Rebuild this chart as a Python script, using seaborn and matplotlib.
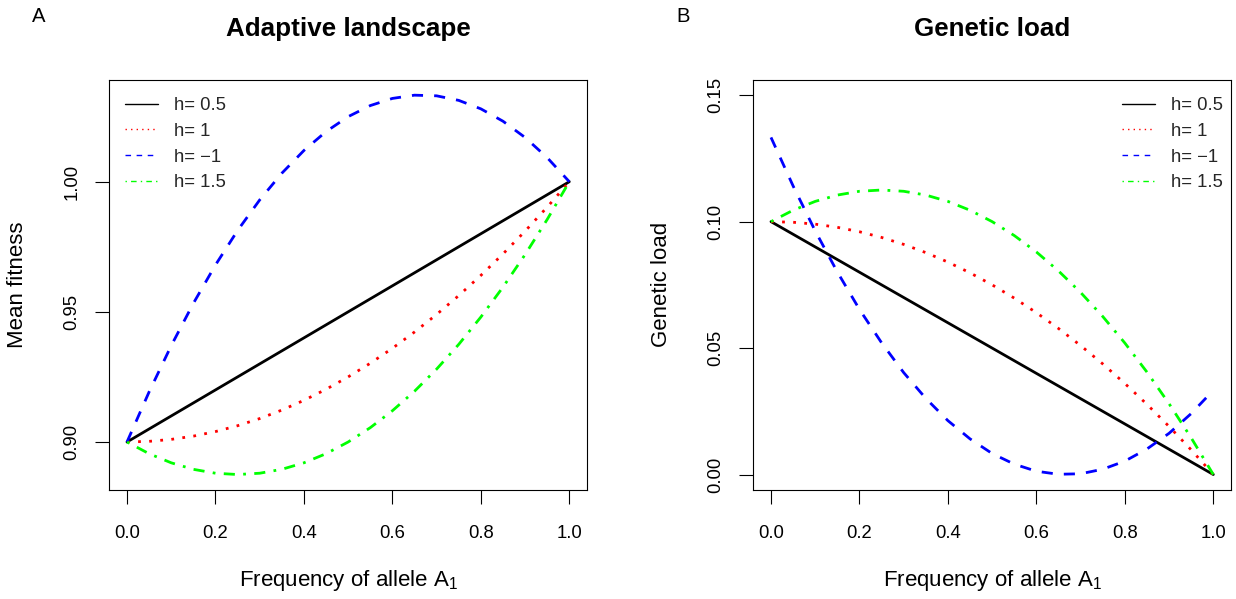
import matplotlib
matplotlib.use("Agg")
import matplotlib.pyplot as plt
import numpy as np
import pandas as pd
import seaborn as sns
from matplotlib.lines import Line2D

# ---------------- data ----------------
freq = [0.00, 0.05, 0.10, 0.15, 0.20, 0.25, 0.30, 0.35, 0.40, 0.45, 0.50,
        0.55, 0.60, 0.65, 0.70, 0.75, 0.80, 0.85, 0.90, 0.95, 1.00]

series_labels = ["h= 0.5", "h= 1", "h= \u22121", "h= 1.5"]

# Panel A: mean fitness
fit_h05 = [0.900, 0.905, 0.910, 0.915, 0.920, 0.925, 0.930, 0.935, 0.940, 0.945, 0.950,
           0.955, 0.960, 0.965, 0.970, 0.975, 0.980, 0.985, 0.990, 0.995, 1.000]
fit_h1 = [0.90000, 0.90025, 0.90100, 0.90225, 0.90400, 0.90625, 0.90900, 0.91225, 0.91600, 0.92025, 0.92500,
          0.93025, 0.93600, 0.94225, 0.94900, 0.95625, 0.96400, 0.97225, 0.98100, 0.99025, 1.00000]
fit_hm1 = [0.90000, 0.91925, 0.93700, 0.95325, 0.96800, 0.98125, 0.99300, 1.00325, 1.01200, 1.01925, 1.02500,
           1.02925, 1.03200, 1.03325, 1.03300, 1.03125, 1.02800, 1.02325, 1.01700, 1.00925, 1.00000]
fit_h15 = [0.9000, 0.8955, 0.8920, 0.8895, 0.8880, 0.8875, 0.8880, 0.8895, 0.8920, 0.8955, 0.9000,
           0.9055, 0.9120, 0.9195, 0.9280, 0.9375, 0.9480, 0.9595, 0.9720, 0.9855, 1.0000]

# Panel B: genetic load
load_h05 = [0.100, 0.095, 0.090, 0.085, 0.080, 0.075, 0.070, 0.065, 0.060, 0.055, 0.050,
            0.045, 0.040, 0.035, 0.030, 0.025, 0.020, 0.015, 0.010, 0.005, 0.000]
load_h1 = [0.10000, 0.09975, 0.09900, 0.09775, 0.09600, 0.09375, 0.09100, 0.08775, 0.08400, 0.07975, 0.07500,
           0.06975, 0.06400, 0.05775, 0.05100, 0.04375, 0.03600, 0.02775, 0.01900, 0.00975, 0.00000]
load_hm1 = [0.1333, 0.1141, 0.0963, 0.0801, 0.0653, 0.0521, 0.0403, 0.0301, 0.0213, 0.0141, 0.0083,
            0.0041, 0.0013, 0.0001, 0.0003, 0.0021, 0.0053, 0.0101, 0.0163, 0.0241, 0.0333]
load_h15 = [0.1000, 0.1045, 0.1080, 0.1105, 0.1120, 0.1125, 0.1120, 0.1105, 0.1080, 0.1045, 0.1000,
            0.0945, 0.0880, 0.0805, 0.0720, 0.0625, 0.0520, 0.0405, 0.0280, 0.0145, 0.0000]

x_ticks = [0.0, 0.2, 0.4, 0.6, 0.8, 1.0]
x_ticklabels = ["0.0", "0.2", "0.4", "0.6", "0.8", "1.0"]
yA_ticks = [0.90, 0.95, 1.00]
yA_ticklabels = ["0.90", "0.95", "1.00"]
yB_ticks = [0.00, 0.05, 0.10, 0.15]
yB_ticklabels = ["0.00", "0.05", "0.10", "0.15"]

# ---------------- styles ----------------
colors = dict(zip(series_labels, ["#000000", "#FF0000", "#0000FF", "#00FF00"]))
dashes = dict(zip(series_labels, ["", (1, 3), (4, 4), (1, 3, 4, 3)]))

sns.set_theme(style="ticks")
plt.rcParams["font.family"] = ["Liberation Sans", "DejaVu Sans"]
plt.rcParams["mathtext.fontset"] = "custom"
plt.rcParams["mathtext.rm"] = "Liberation Sans"
plt.rcParams["mathtext.it"] = "Liberation Sans:italic"
plt.rcParams["axes.edgecolor"] = "black"
plt.rcParams["axes.linewidth"] = 0.8

FS = 13.3       # tick labels / legend
FS_LAB = 16.0   # axis labels
FS_TITLE = 18.7
W, H = 1236, 599
fig = plt.figure(figsize=(W / 100, H / 100), dpi=100)


def add_ax(left, top, right, bottom):
    return fig.add_axes([left / W, 1 - bottom / H, (right - left) / W, (bottom - top) / H])


axA = add_ax(109.3, 80, 587, 489.7)
axB = add_ax(753.3, 80, 1231, 489.7)


def long_df(values):
    rows = []
    for lab, vals in zip(series_labels, values):
        for p, v in zip(freq, vals):
            rows.append((p, v, lab))
    return pd.DataFrame(rows, columns=["p", "value", "h"])


dfA = long_df([fit_h05, fit_h1, fit_hm1, fit_h15])
dfB = long_df([load_h05, load_h1, load_hm1, load_h15])


def draw(ax, df, yticks, yticklabels, ylim, title, ylabel, legend_loc, anchor):
    sns.lineplot(data=df, x="p", y="value", hue="h", style="h",
                 hue_order=series_labels, style_order=series_labels,
                 palette=colors, dashes=dashes, linewidth=2,
                 estimator=None, sort=False, legend=False, ax=ax)
    ax.set_xlim(-0.04, 1.04)
    ax.set_ylim(*ylim)
    ax.set_xticks(x_ticks)
    ax.set_xticklabels(x_ticklabels)
    ax.set_yticks(yticks)
    ax.set_yticklabels(yticklabels)
    ax.tick_params(axis="both", direction="out", length=10, width=0.8,
                   color="black", labelsize=FS, labelcolor="black")
    ax.tick_params(axis="x", pad=15.5)
    ax.tick_params(axis="y", pad=11, labelrotation=90)
    for lab in ax.get_yticklabels():
        lab.set_va("center")
    for s in ax.spines.values():
        s.set_visible(True)
        s.set_color("black")
        s.set_linewidth(0.8)
    ax.set_xlabel(r"Frequency of allele A$_{\mathregular{1}}$", fontsize=FS_LAB, color="black")
    ax.xaxis.set_label_coords(0.5, -0.222)
    ax.xaxis.label.set_va("center")
    ax.set_ylabel(ylabel, fontsize=FS_LAB, color="black")
    ax.yaxis.set_label_coords(-0.193, 0.5)
    ax.yaxis.label.set_va("center")
    ax.text(0.5, 1.1245, title, transform=ax.transAxes, ha="center", va="center",
            fontsize=FS_TITLE, fontweight="bold", color="black")
    handles = [Line2D([], [], color=colors[l], lw=1,
                      linestyle=(0, dashes[l]) if dashes[l] else "-") for l in series_labels]
    ax.legend(handles, series_labels, loc=legend_loc, bbox_to_anchor=anchor,
              frameon=False, fontsize=FS, handlelength=1.78, handletextpad=0.86,
              labelspacing=0.47, borderpad=0, borderaxespad=0)


rA = max(max(fit_hm1), 1.0) - min(fit_h15)
ylimA = (min(fit_h15) - 0.04 * rA, max(fit_hm1) + 0.04 * rA)
ylimB = (0 - 0.04 * 0.15, 0.15 + 0.04 * 0.15)

draw(axA, dfA, yA_ticks, yA_ticklabels, ylimA, "Adaptive landscape", "Mean fitness",
     "upper left", (0.033, 0.958))
draw(axB, dfB, yB_ticks, yB_ticklabels, ylimB, "Genetic load", "Genetic load",
     "upper right", (0.983, 0.958))

fig.text(39 / W, 1 - 16 / H, "A", ha="center", va="center", fontsize=14.6, color="black")
fig.text(683 / W, 1 - 16 / H, "B", ha="center", va="center", fontsize=14.6, color="black")

fig.savefig("out.png", dpi=100, facecolor="white")
